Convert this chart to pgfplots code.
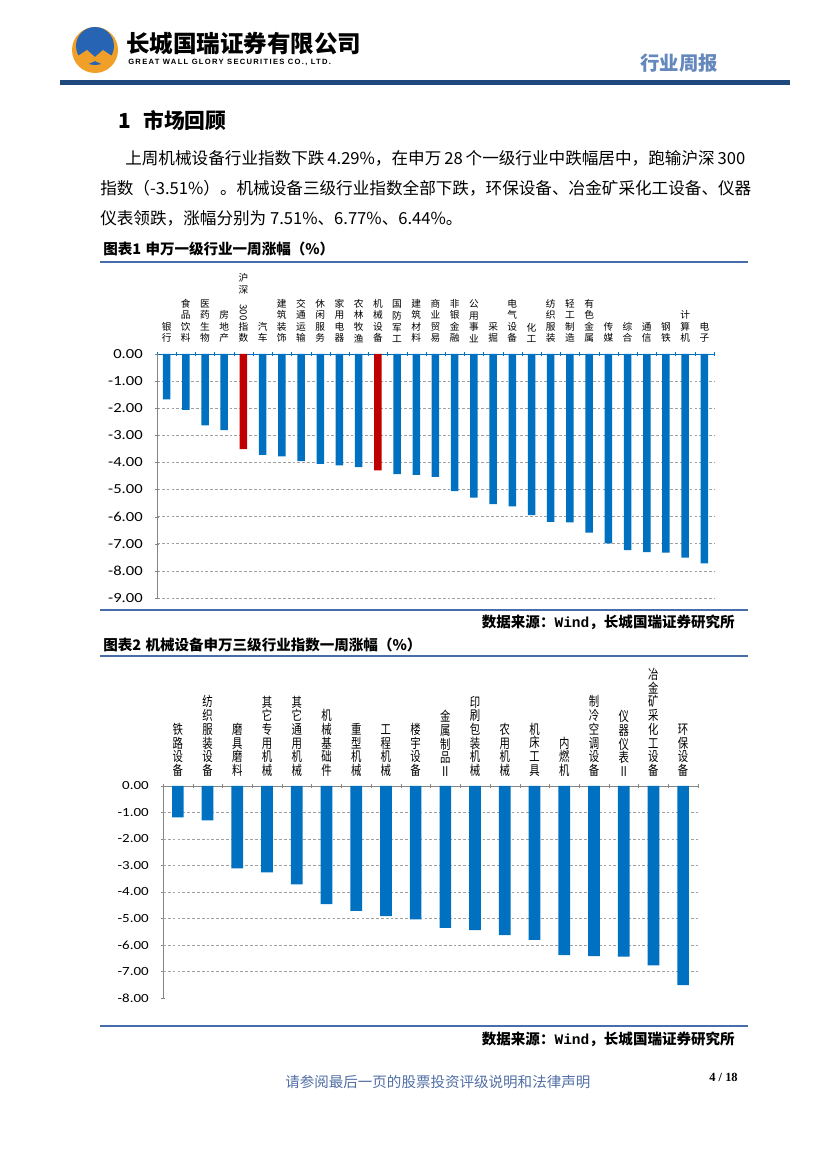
\documentclass[border=0pt]{standalone}
\usepackage{fontspec}
\setmainfont{Noto Sans CJK SC}
\newfontfamily\carlito{Carlito}
\newfontfamily\engfont[LetterSpace=17]{Liberation Sans}
\newfontfamily\monofont{Liberation Mono}
\newfontfamily\seriffont{Liberation Serif}
\usepackage{pgfplots}
\pgfplotsset{compat=1.18}
\definecolor{barblue}{RGB}{0,112,192}
\definecolor{barred}{RGB}{192,0,0}
\definecolor{capline}{RGB}{70,110,170}
\definecolor{navy}{RGB}{31,73,125}
\definecolor{gridgray}{RGB}{160,160,160}
\definecolor{axisgray}{RGB}{134,134,134}
\definecolor{hdrblue}{RGB}{100,135,190}
\definecolor{footblue}{RGB}{80,110,165}
\definecolor{logoorange}{RGB}{240,160,40}
\definecolor{logoblue}{RGB}{40,100,180}

\begin{document}
\begin{tikzpicture}
\useasboundingbox (0,0) rectangle (210.058mm,-296.926mm);
\begin{scope}[x=0.254mm,y=-0.254mm]
% logo
\fill[logoorange] (95,50) circle (23);
\fill[logoblue] (95,46) circle (19);
\fill[logoorange] (78,56) -- (87,50) -- (95,57) -- (103,50) -- (112,56) -- (106,66) -- (95,61) -- (84,66) -- cycle;
\node[anchor=west, inner sep=0, font={\fontsize{17}{17}\selectfont\bfseries}] at (126,44) {长城国瑞证券有限公司};
\node[anchor=west, inner sep=0, font={\engfont\fontsize{5.5}{6}\selectfont\bfseries}] at (128,62) {GREAT WALL GLORY SECURITIES CO., LTD.};
\node[anchor=west, inner sep=0, text=hdrblue, font={\fontsize{14}{14}\selectfont\bfseries}] at (640,63) {行业周报};
\fill[navy] (60,80.5) rectangle (790,85);
% section
\node[anchor=west, inner sep=0, font={\fontsize{15}{15}\selectfont\bfseries}] at (118,121) {1\hspace{0.6em}市场回顾};
\node[anchor=west, inner sep=0, font={\fontsize{12}{12}\selectfont}] at (125,158) {\makebox[157.48mm][s]{上周机械设备行业指数下跌 4.29\%，在申万 28 个一级行业中跌幅居中，跑输沪深 300}};
\node[anchor=west, inner sep=0, font={\fontsize{12}{12}\selectfont}] at (100,188) {指数（-3.51\%）。机械设备三级行业指数全部下跌，环保设备、冶金矿采化工设备、仪器};
\node[anchor=west, inner sep=0, font={\fontsize{12}{12}\selectfont}] at (100,218) {仪表领跌，涨幅分别为 7.51\%、6.77\%、6.44\%。};
% captions
\node[anchor=west, inner sep=0, font={\fontsize{10.5}{10.5}\selectfont\bfseries}] at (103,249) {图表1\hspace{0.3em}申万一级行业一周涨幅（\%）};
\draw[capline, line width=0.5mm] (100,262) -- (748,262);
\draw[capline, line width=0.5mm] (100,610) -- (748,610);
\node[anchor=east, inner sep=0, font={\fontsize{10.5}{10.5}\selectfont\bfseries}] at (735,622) {数据来源：{\monofont Wind}，长城国瑞证券研究所};
\node[anchor=west, inner sep=0, font={\fontsize{10.5}{10.5}\selectfont\bfseries}] at (103,645) {图表2\hspace{0.3em}机械设备申万三级行业指数一周涨幅（\%）};
\draw[capline, line width=0.5mm] (100,656) -- (748,656);
\draw[capline, line width=0.5mm] (100,1026) -- (748,1026);
\node[anchor=east, inner sep=0, font={\fontsize{10.5}{10.5}\selectfont\bfseries}] at (735,1039) {数据来源：{\monofont Wind}，长城国瑞证券研究所};
% footer
\node[anchor=west, inner sep=0, text=footblue, font={\fontsize{10.5}{10.5}\selectfont}] at (285,1082) {请参阅最后一页的股票投资评级说明和法律声明};
\node[anchor=east, inner sep=0, font={\seriffont\fontsize{9}{9}\selectfont\bfseries}] at (738,1077) {4 / 18};
\end{scope}

% ---------- chart 1 ----------
\begin{axis}[
  at={(157*0.254mm,-354*0.254mm)}, anchor=north west,
  scale only axis, width=141.478mm, height=61.976mm,
  xmin=-0.5, xmax=28.5, ymin=-9, ymax=0,
  axis x line*=top, axis y line*=left,
  x axis line style={barblue, line width=0.7pt},
  y axis line style={axisgray, line width=0.6pt},
  xtick={0,...,28},
  xticklabels={{银\\行},{食\\品\\饮\\料},{医\\药\\生\\物},{房\\地\\产},{沪\\深\\\rotatebox{-90}{300}\\指\\数},{汽\\车},{建\\筑\\装\\饰},{交\\通\\运\\输},{休\\闲\\服\\务},{家\\用\\电\\器},{农\\林\\牧\\渔},{机\\械\\设\\备},{国\\防\\军\\工},{建\\筑\\材\\料},{商\\业\\贸\\易},{非\\银\\金\\融},{公\\用\\事\\业},{采\\掘},{电\\气\\设\\备},{化\\工},{纺\\织\\服\\装},{轻\\工\\制\\造},{有\\色\\金\\属},{传\\媒},{综\\合},{通\\信},{钢\\铁},{计\\算\\机},{电\\子}},
  minor xtick={-0.5,0.5,...,28.5},
  ytick={0,-1,...,-9}, minor ytick={0,-1,...,-9},
  major tick length=0pt, minor tick length=1.0mm, tick align=center,
  minor x tick style={barblue}, minor y tick style={axisgray},
  ymajorgrids, major grid style={gridgray, dash pattern=on 2pt off 1.5pt, line width=0.5pt},
  yticklabel={\scalebox{1.2}[1]{\carlito\pgfmathprintnumber[fixed,fixed zerofill,precision=2,assume math mode=true]{\tick}}},
  yticklabel style={inner sep=0pt, anchor=east, xshift=-3.56mm, font={\fontsize{10}{12}\selectfont}},
  xticklabel style={font={\fontsize{7}{8.4}\selectfont}, align=center, anchor=south, inner sep=0pt, yshift=2.8mm},
]
\addplot[ybar, bar width=1.905mm, bar shift=0pt, fill=barblue, draw=none] coordinates {
(0,-1.67) (1,-2.06) (2,-2.63) (3,-2.81) (5,-3.72) (6,-3.78) (7,-3.95) (8,-4.05) (9,-4.11) (10,-4.17)
(12,-4.43) (13,-4.46) (14,-4.53) (15,-5.06) (16,-5.30) (17,-5.54) (18,-5.62) (19,-5.94) (20,-6.19)
(21,-6.21) (22,-6.59) (23,-6.99) (24,-7.23) (25,-7.31) (26,-7.33) (27,-7.51) (28,-7.72)};
\addplot[ybar, bar width=1.905mm, bar shift=0pt, fill=barred, draw=none] coordinates {(4,-3.51) (11,-4.29)};
\end{axis}

% ---------- chart 2 ----------
\begin{axis}[
  at={(163*0.254mm,-786*0.254mm)}, anchor=north west,
  scale only axis, width=135.89mm, height=53.848mm,
  xmin=-0.5, xmax=17.5, ymin=-8, ymax=0,
  axis x line*=top, axis y line*=left,
  x axis line style={axisgray, line width=0.6pt},
  y axis line style={axisgray, line width=0.6pt},
  xtick={0,...,17},
  xticklabels={{铁\\路\\设\\备},{纺\\织\\服\\装\\设\\备},{磨\\具\\磨\\料},{其\\它\\专\\用\\机\\械},{其\\它\\通\\用\\机\\械},{机\\械\\基\\础\\件},{重\\型\\机\\械},{工\\程\\机\\械},{楼\\宇\\设\\备},{金\\属\\制\\品\\Ⅱ},{印\\刷\\包\\装\\机\\械},{农\\用\\机\\械},{机\\床\\工\\具},{内\\燃\\机},{制\\冷\\空\\调\\设\\备},{仪\\器\\仪\\表\\Ⅱ},{冶\\金\\矿\\采\\化\\工\\设\\备},{环\\保\\设\\备}},
  minor xtick={-0.5,0.5,...,17.5},
  ytick={0,-1,...,-8}, minor ytick={0,-1,...,-8},
  extra y ticks={-1,-2,...,-7}, extra y tick labels={}, extra y tick style={grid=major},
  major tick length=0pt, minor tick length=1.0mm, tick align=center,
  minor x tick style={axisgray}, minor y tick style={axisgray},
  major grid style={gridgray, dash pattern=on 2pt off 1.5pt, line width=0.5pt},
  yticklabel={\scalebox{1.2}[1]{\carlito\pgfmathprintnumber[fixed,fixed zerofill,precision=2,assume math mode=true]{\tick}}},
  yticklabel style={inner sep=0pt, anchor=east, xshift=-3.56mm, font={\fontsize{9}{11}\selectfont}},
  xticklabel style={font={\fontsize{7.5}{7.6}\selectfont}, yscale=1.3, align=center, anchor=south, inner sep=0pt, yshift=1.8mm},
]
\addplot[ybar, bar width=2.97mm, bar shift=0pt, fill=barblue, draw=none] coordinates {
(0,-1.18) (1,-1.30) (2,-3.11) (3,-3.26) (4,-3.71) (5,-4.46) (6,-4.71) (7,-4.91) (8,-5.03)
(9,-5.35) (10,-5.44) (11,-5.63) (12,-5.81) (13,-6.38) (14,-6.42) (15,-6.44) (16,-6.77) (17,-7.51)};
\end{axis}
\end{tikzpicture}
\end{document}
